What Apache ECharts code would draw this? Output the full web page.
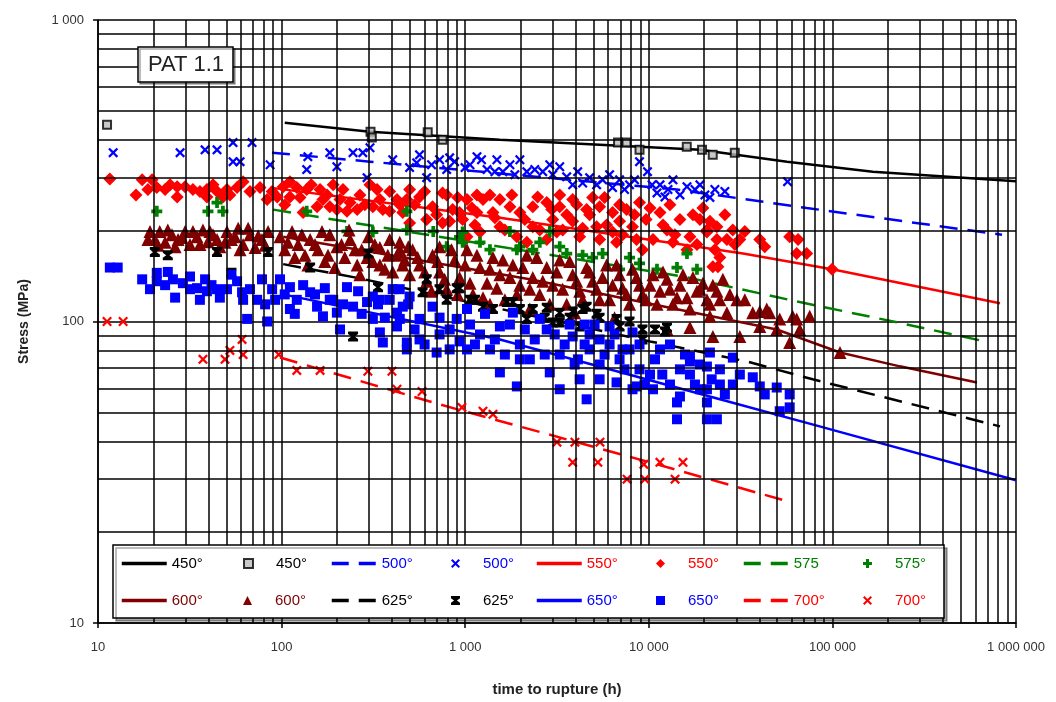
<!DOCTYPE html>
<html><head><meta charset="utf-8">
<script src="https://cdn.jsdelivr.net/npm/echarts@6/dist/echarts.min.js"></script>
<style>html,body{margin:0;padding:0;background:#fff}#c{width:1056px;height:702px}</style>
</head><body><div id="c"></div>
<script>
// ---------- tick labels ----------
const xTickValues = [10, 100, 1000, 10000, 100000, 1000000];
const xTickLabels = ['10', '100', '1 000', '10 000', '100 000', '1 000 000'];
const yTickValues = [10, 100, 1000];
const yTickLabels = ['10', '100', '1 000'];
const xMinorGrid = [20,30,40,50,60,70,80,90,200,300,400,500,600,700,800,900,2000,3000,4000,5000,6000,7000,8000,9000,
  20000,30000,40000,50000,60000,70000,80000,90000,200000,300000,400000,500000,600000,700000,800000,900000];
const yMinorGrid = [20,30,40,50,60,70,80,90,200,300,400,500,600,700,800,900];

// ---------- fit lines (time h, stress MPa) ----------
const fit450 = [[104,456],[303,426],[1545,401],[5400,386],[19000,371],[56600,339],[166000,314],[1000000,292]];
const fit500 = [[88.6,363],[303,339],[14200,274],[72400,238],[839000,194]];
const fit550 = [[86.6,278],[1545,221],[32600,168],[99600,149],[818000,115]];
const fit575 = [[90,235],[15350,141],[66350,116],[214000,100],[678000,85.9]];
const fit600 = [[102,191],[2249,138],[49750,94.1],[110000,78.9],[233000,71],[613000,62.8]];
const fit625 = [[102,155],[267,139],[10150,85.9],[34200,73.7],[78100,64.3],[818000,44.9]];
const fit650 = [[102,123],[1545,87.2],[24390,55.2],[85200,44.9],[1000000,29.75]];
const fit700 = [[98,76],[726,53.1],[10150,34.1],[58600,25.2]];

// ---------- test points ----------
const pts450 = [[11.2,449],[305,426],[310,408],[625,424],[753,401],[6800,392],[7560,392],[8900,371],[16100,380],[19500,371],[22300,357],[29400,363]];
const pts500 = [[12.1,363],[28,363],[38.3,371],[44.5,371],[54.4,392],[69,392],[54.4,339],[59.4,339],[86.6,331],[139,352],[137,319],[183,363],[200,326],[245,363],[277,363],[303,377],[292,300],[403,344],[544,336],[617,300],[725,344],[876,339],[1159,352],[1315,319],[1604,314],[2166,314],[2645,314],[3272,326],[3571,302],[3849,284],[4762,300],[5601,295],[6348,278],[7855,284],[8902,339],[9840,314],[11080,267],[13540,295],[16140,280],[20210,263],[22910,274],[57000,291],[498,324],[793,319],[998,324],[1451,314],[1864,307],[2393,319],[2997,307],[4362,288],[5197,284],[6931,295],[7377,274],[11510,284],[12250,259],[17840,274],[21520,258],
  [564,357],[656,331],[823,349],[1062,331],[1227,344],[1488,344],[1752,331],[1985,344],[2888,331],[4100,314],[6116,307],[8361,295],[10420,284],[12720,274],[14780,263],[18990,284],[25960,270]];
const pts550 = [[11.6,297],[16.1,263],[17.4,295],[19.7,295],[20.9,278],[23.2,274],[27,280],[27,259],[32.9,274],[39.2,274],[39.2,259],[44.5,270],[47.9,259],[52.3,263],[57.2,278],[61.7,291],[83.4,254],[88.8,270],[102,280],[111,291],[121,278],[137,274],[162,274],[168,254],[183,240],[216,274],[236,248],[258,235],[331,274],[314,240],[356,235],[425,254],[457,230],[131,230],[156,240],[200,235],[111,259],[481,254],[564,259],[664,240],[793,263],[854,235],[1023,254],[1159,230],[1250,254],[1545,254],[1752,240],[1985,230],[2334,240],[2781,248],[3272,240],[3849,254],[4586,235],[5396,240],[6348,230],[7565,235],[8902,248],[498,212],[617,218],[753,212],[968,218],[1204,198],[1545,206],[1911,191],[2334,206],[2781,187],[3396,201],[4202,191],[5197,206],[6348,198],[8153,206],[9660,218],[11510,230],[12560,201],[14780,218],[16750,191],[20730,201],[23490,187],[9241,173],[10540,187],[13540,183],[16140,173],[22340,152],[5396,187],[6675,183],[2166,183],[1023,191],[20730,198],[23490,206],[26620,187],[28690,201],[31320,187],[23800,152],[24390,163],[40220,187],[42810,177],[58540,191],[65000,187],[63910,168],[72430,168],[99600,149],[753,267],[1159,263],[3272,263],[4942,258],[343,254],[388,232],[932,230],[1416,230],[2997,218],[3849,215],[6931,215],[18990,218],
  [530,244],[601,270],[699,226],[823,215],[910,258],[1088,238],[1130,209],[1364,263],[1451,221],[1645,201],[1796,263],[2112,218],[2480,259],[2548,201],[2960,235],[3151,198],[3571,226],[4047,244],[4362,204],[4762,226],[5744,258],[5890,209],[6931,244],[7194,194],[8361,226],[8574,187],[10150,238],[11950,209],[13040,244],[13880,194],[17390,226],[18290,180],[19710,238],[21520,215],[22910,173],[25960,226],[29420,180],[33340,199],
  [18.7,274],[24.7,284],[29.8,280],[35.9,270],[42.3,284],[50.4,274],[67.3,270],[76.3,278],[94.6,259],[104,244],[126,258],[145,284],[177,263],[191,284],[208,254],[227,232],[267,263],[284,244],[303,284],[388,270],[440,244],[498,274]];
const pts575 = [[20.9,232],[39.7,232],[44.5,248],[47.9,232],[137,232],[227,199],[314,198],[481,232],[481,201],[670,199],[793,177],[932,191],[968,183],[1204,183],[1364,173],[1752,199],[1911,173],[2334,173],[2548,183],[2888,199],[3272,177],[3571,168],[4362,166],[5601,168],[6931,149],[7855,163],[8902,156],[11080,149],[14240,151],[16140,168],[18290,149],[968,198],[1985,177],[4942,163]];
const pts600 = [[19.2,199],[20.4,187],[21.7,199],[23.2,183],[25.3,194],[27.3,187],[29.8,199],[31.7,180],[34.6,191],[37.3,201],[39.7,184],[42.3,194],[46.1,177],[50.4,199],[53.3,187],[58,204],[61.7,180],[67.3,194],[71.7,176],[78.2,187],[84.4,199],
  [98,191],[104,173],[114,199],[123,180],[134,166],[143,187],[158,173],[172,158],[183,194],[200,177],[221,163],[236,187],[258,154],[273,173],[297,191],[314,158],[343,176],[365,149],[388,187],[425,166],[457,154],[490,177],
  [517,173],[564,154],[617,136],[664,166],[725,146],[793,128],[876,160],[932,140],[1023,173],[1102,123],[1204,151],[1315,134],[1416,163],[1545,143],[1645,118],[1818,154],[1985,132],[2166,166],[2334,140],[2548,123],[2781,151],[2997,132],[3272,160],[3571,114],[3849,143],[4202,126],[4586,151],[4942,136],[5396,118],[5890,154],[6348,132],[6931,143],[7565,123],[8153,149],[8902,132],[9660,118],[10540,143],[11510,126],[12560,138],[13540,114],[14780,132],[16140,120],[17390,140],[18990,128],[20730,118],[22340,132],[24390,118],[26620,107],[30170,118],[36840,107],[45580,107],[60770,104],[75190,104],[22340,89.2],[31320,89.2],[58540,85.2],[12560,94.1],[16750,95.5],[21520,104],[43900,110],[40220,96.3],[63910,102],[49750,94.1],[110000,78.9],[1364,114],[2249,110],[3946,107],[6510,103],[440,183],[725,177],
  [18.7,187],[21.2,179],[24,201],[26.3,177],[28.7,190],[32.9,199],[35.9,180],[40.7,199],[44.5,187],[49.2,183],[55.8,191],[59.4,173],[65.7,204],[74.6,192],[81.3,179],
  [108,183],[118,163],[129,194],[139,154],[152,180],[166,199],[179,166],[195,151],[212,180],[233,201],[251,173],[267,143],[292,163],[322,180],[343,154],[379,166],[403,146],[440,173],[468,160],[498,143],
  [551,163],[601,146],[656,126],[708,158],[772,138],[843,173],[910,123],[998,154],[1062,134],[1159,166],[1250,120],[1364,149],[1488,129],[1604,160],[1752,140],[1911,123],[2060,151],[2249,128],[2454,163],[2645,136],[2888,114],[3151,146],[3396,128],[3708,158],[4047,136],[4362,118],[4762,146],[5197,128],[5601,140],[6116,118],[6675,154],[7194,129],[7855,114],[8574,140],[9241,123],[10150,132],[11080,114],[11950,146],[13040,128],[14240,120],[15350,143],[16750,110],[18290,126],[19710,134],[21520,114],[23490,126],[25320,138],[27640,123],[33340,118],[40220,108],[51650,102],[66350,94.1]];
const pts625 = [[20.4,170],[24,166],[44.5,170],[53.3,145],[84.4,170],[143,151],[297,168],[335,130],[245,89.2],[617,138],[586,125],[793,118],[932,129],[1250,112],[1416,110],[1687,116],[2334,110],[2781,111],[3272,107],[3849,108],[4362,110],[5197,106],[6675,102],[9241,94.1],[9241,87.2],[12560,95.5],[6931,96.3],[2166,102],[2997,99.2],[899,129],[1062,118],[1818,116],[4586,112],[3272,99.2],[4202,96.3],[12250,92.6],
  [725,128],[1130,118],[1985,110],[2712,103],[3708,103],[5396,103],[7855,100],[10810,94.1]];
const pts650 = [[11.6,151],[12.8,151],[17.4,138],[20.9,145],[20.9,136],[25.6,138],[26.3,120],[29,134],[31.7,141],[34.6,129],[38.3,138],[39.2,126],[44.5,128],[50.4,128],[57.2,136],[60.9,125],[64.9,102],[73.6,118],[83.4,100],[88.8,128],[98,138],[111,130],[121,118],[143,125],[156,112],[183,118],[200,107],[227,130],[245,112],[292,116],[314,102],[343,92],[388,118],[425,96.3],[457,112],[481,85.2],[111,110],[168,104],[208,94.1],[314,121],[356,85.2],[425,107],[481,80.8],[61.7,118],
  [498,121],[664,112],[1023,110],[1545,96.3],[1818,107],[2781,94.1],[3849,89.2],[6116,96.3],[8153,92],[11510,80.8],[16750,76.5],[21520,78.9],[699,78.9],[1023,80.8],[1545,67.8],[1911,60.9],[2888,67.8],[4586,55.2],[6675,62.8],[8153,59.6],[10540,59.6],[14240,53.9],[20730,53.9],[14240,47.4],[20730,47.4],[23490,47.4],
  [564,102],[823,94.1],[1204,90.6],[564,87.2],[932,85.9],[1364,80.8],[1985,83.9],[2249,74.9],[3272,77.7],[4762,80.8],[5396,72],[6931,74.9],[8902,69.4],[4202,64.3],[3272,59.6],[10150,66.7],[13040,61.8],[16750,66.7],[18990,59.6],[24390,61.8],[6116,83.9],[4762,90.6],[440,128],[343,118],[725,103],[2112,94.1],
  [16750,73.7],[20730,70.9],[14780,56.4],[28690,75.9],[28690,61.8],[36840,65.3],[40220,60.9],[49750,60.4],[58540,51.9],[51650,50.4],[8574,60.9],[20730,59.6],[4472,97.7],[5396,87.2],[7194,80.8],[3946,72],
  [19.2,128],[23.2,132],[24,146],[31.7,128],[35.9,118],[41.5,132],[46.1,120],[53.3,143],[67.3,128],[78.2,138],[81.3,114],[92.2,118],[104,123],[118,106],[131,132],[152,123],[172,129],[191,118],[216,114],[261,126],[273,106],[335,114],[365,103],[403,128],[440,102],[489,114],
  [530,94.1],[601,83.9],[725,90.6],[823,80.8],[899,102],[1062,97.7],[1130,83.9],[1282,106],[1451,87.2],[1645,77.7],[1752,97.7],[1985,74.9],[2393,87.2],[2548,102],[2712,77.7],[3073,90.6],[3482,83.9],[3708,97.7],[4110,74.9],[4472,83.9],[5068,97.7],[5396,64.3],[5744,77.7],[6510,90.6],[7377,69.4],[7855,80.8],[8902,83.9],[9476,61.8],[10810,74.9],[11840,66.7],[13040,83.9],[14780,69.4],[15740,77.7],[17840,61.8],[18990,72],[22000,64.3],[24390,69.4],[25960,57.3],[31320,66.7],[42810,57.3],[58540,57.3]];
const pts700 = [[11.2,100],[13.7,100],[37.3,74.9],[49.2,74.9],[52.3,80.2],[60.9,87.2],[61.7,77.7],[96.5,77.7],[121,68.8],[162,68.8],[295,68.4],[399,68.4],[425,59.6],[582,58.6],[960,51.9],[1250,50.4],[1417,49.2],[3160,39.8],[3960,39.8],[5420,39.8],[3850,34.1],[5280,34.1],[7610,30],[9520,30],[9400,33.6],[11500,34.1],[15350,34.1],[13900,30]];

// ---------- legend labels ----------
const legendNames = ['450° fit','450° data','500° fit','500° data','550° fit','550° data','575 fit','575° data',
  '600° fit','600° data','625° fit','625° data','650° fit','650° data','700° fit','700° data'];

// ---------- styles ----------
const BLACK = '#000000', BLUE = '#0000ff', RED = '#ff0000', GREEN = '#008000', BROWN = '#800000';
const FONT = "'Liberation Sans', Arial, sans-serif";
const NARROW = "'Liberation Sans Narrow', 'Liberation Sans', Arial, sans-serif";
const SYM_X = 'path://M0,1.6L1.6,0L5,3.4L8.4,0L10,1.6L6.6,5L10,8.4L8.4,10L5,6.6L1.6,10L0,8.4L3.4,5Z';
const SYM_PLUS = 'path://M3.3,0H6.7V3.3H10V6.7H6.7V10H3.3V6.7H0V3.3H3.3Z';
const SYM_HOUR = 'path://M0,0H10V2.5L6.6,5L10,7.5V10H0V7.5L3.4,5L0,2.5Z';
const DASH = [18, 10];

function fitLine(name, data, color, dashed) {
  return { name, type: 'line', data, symbol: 'none', z: 3, silent: true,
    lineStyle: { color, width: 2.5, type: dashed ? DASH : 'solid' }, itemStyle: { color } };
}
function pts(name, data, color, symbol, size, extra) {
  return Object.assign({ name, type: 'scatter', data, symbol, symbolSize: size, z: 3, silent: true,
    itemStyle: { color, opacity: 1 } }, extra || {});
}

const series = [
  { name: 'grid', type: 'line', data: [[10, 10]], symbol: 'none', lineStyle: { width: 0 }, silent: true, z: 1,
    markLine: { silent: true, symbol: 'none', animation: false, label: { show: false },
      lineStyle: { color: '#000', width: 1.5, type: 'solid' }, emphasis: { disabled: true },
      data: xMinorGrid.map(v => ({ xAxis: v })).concat(yMinorGrid.map(v => ({ yAxis: v }))) } },
  fitLine('450° fit', fit450, BLACK, false),
  pts('450° data', pts450, BLACK, 'rect', 8, { itemStyle: { color: '#bbbbbb', borderColor: '#000', borderWidth: 2 } }),
  fitLine('500° fit', fit500, BLUE, true),
  pts('500° data', pts500, BLUE, SYM_X, 10),
  fitLine('550° fit', fit550, RED, false),
  pts('550° data', pts550, RED, 'diamond', 13),
  fitLine('575 fit', fit575, GREEN, true),
  pts('575° data', pts575, GREEN, SYM_PLUS, 11),
  fitLine('600° fit', fit600, BROWN, false),
  pts('600° data', pts600, BROWN, 'triangle', 13),
  fitLine('625° fit', fit625, BLACK, true),
  pts('625° data', pts625, BLACK, SYM_HOUR, 10),
  fitLine('650° fit', fit650, BLUE, false),
  pts('650° data', pts650, BLUE, 'rect', 10),
  fitLine('700° fit', fit700, RED, true),
  pts('700° data', pts700, RED, SYM_X, 10)
];

const legendColors = [BLACK, BLACK, BLUE, BLUE, RED, RED, GREEN, GREEN, BROWN, BROWN, BLACK, BLACK, BLUE, BLUE, RED, RED];
const legendDashed = [false, null, true, null, false, null, true, null, false, null, true, null, false, null, true, null];
const colLeft = [120, 225, 330, 433, 535, 638, 742, 845];
const rowTop = [556, 593];
const legends = legendNames.map((n, i) => {
  const isLine = legendDashed[i] !== null;
  const base = {
    data: [n], top: rowTop[Math.floor(i / 8)], padding: 0, itemGap: 0, selectedMode: false, z: 20,
    formatter: nm => nm.split(' ')[0]
  };
  if (isLine) {
    return Object.assign(base, {
      left: colLeft[i % 8], itemWidth: 45, itemHeight: 9,
      itemStyle: { opacity: 0, borderWidth: 0 },
      lineStyle: { color: legendColors[i], width: 3.5, type: legendDashed[i] ? [17, 10] : 'solid', opacity: 1 },
      textStyle: { color: legendColors[i], fontSize: 15, fontFamily: FONT }
    });
  }
  return Object.assign(base, {
    left: colLeft[i % 8] + 18, itemWidth: 9, itemHeight: 9, symbolKeepAspect: true,
    textStyle: { color: legendColors[i], fontSize: 15, fontFamily: FONT, padding: [0, 0, 0, 18] }
  });
});

function fmtTick(values, labels) {
  return v => { const i = values.findIndex(t => Math.abs(Math.log10(t) - Math.log10(v)) < 1e-6); return i >= 0 ? labels[i] : ''; };
}

const chart = echarts.init(document.getElementById('c'), null, { renderer: 'canvas' });
chart.setOption({
  animation: false,
  backgroundColor: '#ffffff',
  grid: { left: 98, right: 40, top: 20, bottom: 78, containLabel: false },
  xAxis: {
    type: 'log', logBase: 10, min: 10, max: 1000000,
    name: 'time to rupture (h)', nameLocation: 'middle', nameGap: 59,
    nameTextStyle: { fontFamily: FONT, fontSize: 15, fontWeight: 'bold', color: '#222' },
    axisLine: { show: true, onZero: false, lineStyle: { color: '#000', width: 1.5 } },
    axisTick: { show: true, length: 5, lineStyle: { color: '#000', width: 1.5 } },
    axisLabel: { margin: 18, fontSize: 13, color: '#333', fontFamily: NARROW, formatter: fmtTick(xTickValues, xTickLabels) },
    splitLine: { show: true, lineStyle: { color: '#000', width: 1.5 } }
  },
  yAxis: {
    type: 'log', logBase: 10, min: 10, max: 1000,
    name: 'Stress (MPa)', nameLocation: 'middle', nameGap: 67, nameRotate: 90,
    nameTextStyle: { fontFamily: FONT, fontSize: 14, fontWeight: 'bold', color: '#222' },
    axisLine: { show: true, onZero: false, lineStyle: { color: '#000', width: 1.5 } },
    axisTick: { show: true, length: 5, lineStyle: { color: '#000', width: 1.5 } },
    axisLabel: { margin: 14, fontSize: 13, color: '#333', fontFamily: NARROW, formatter: fmtTick(yTickValues, yTickLabels) },
    splitLine: { show: true, lineStyle: { color: '#000', width: 1.5 } }
  },
  legend: legends,
  graphic: [
    { type: 'rect', z: 10, silent: true, shape: { x: 113, y: 545, width: 831, height: 73 },
      style: { fill: '#fff', stroke: '#000', lineWidth: 1.5, shadowColor: 'rgba(0,0,0,0.35)', shadowOffsetX: 3, shadowOffsetY: 3, shadowBlur: 0 } },
    { type: 'rect', z: 10, silent: true, shape: { x: 138, y: 47, width: 95, height: 35 },
      style: { fill: '#fff', stroke: '#000', lineWidth: 1.5, shadowColor: 'rgba(0,0,0,0.35)', shadowOffsetX: 2, shadowOffsetY: 2, shadowBlur: 0 } },
    { type: 'text', z: 11, silent: true, x: 186, y: 65,
      style: { text: 'PAT 1.1', align: 'center', verticalAlign: 'middle', font: '22px ' + FONT, fill: '#222' } }
  ],
  series
});
</script>
</body></html>
